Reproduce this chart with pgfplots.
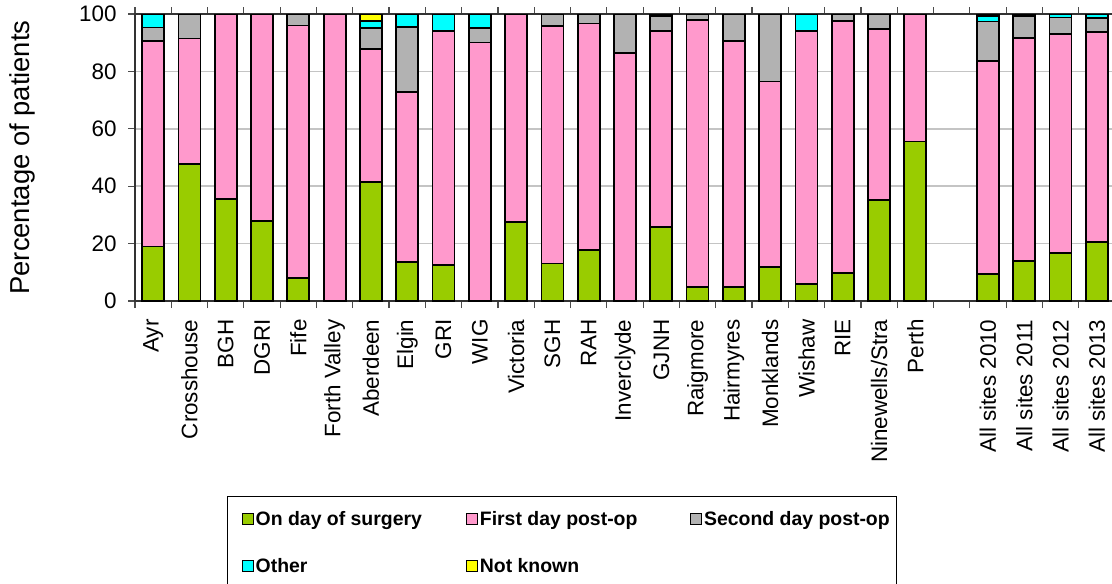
\documentclass[border=0pt]{standalone}
\usepackage{fontspec}
\setmainfont{Liberation Sans}
\usepackage{pgfplots}
\usepackage{pgfplotstable}
\pgfplotsset{compat=1.18}

\definecolor{cgreen}{HTML}{99CC00}
\definecolor{cpink}{HTML}{FF99CC}
\definecolor{cgray}{HTML}{B2B2B2}
\definecolor{ccyan}{HTML}{00FFFF}
\definecolor{cyell}{HTML}{FFFF00}
\definecolor{cgrid}{HTML}{C4C4C4}

% x  on-day  first  second  other  notknown
\pgfplotstableread{
x  g     p     s     o    n
0  19.0  71.5  4.8   4.7  0
1  47.8  43.7  8.5   0    0
2  35.5  64.5  0     0    0
3  27.8  72.2  0     0    0
4  8.1   87.9  4.0   0    0
5  0     100   0     0    0
6  41.4  46.5  7.2   2.6  2.3
7  13.7  59.2  22.7  4.4  0
8  12.6  81.5  0     5.9  0
9  0     90.1  4.9   5.0  0
10 27.4  72.6  0     0    0
11 13.1  82.8  4.1   0    0
12 17.9  78.8  3.3   0    0
13 0     86.4  13.6  0    0
14 25.9  68.3  5.0   0.8  0
15 4.9   93.0  2.1   0    0
16 4.8   85.7  9.5   0    0
17 11.9  64.6  23.5  0    0
18 6.0   88.1  0     5.9  0
19 9.7   87.9  2.4   0    0
20 35.2  59.5  5.3   0    0
21 55.6  44.4  0     0    0
23 9.4   74.2  13.8  1.8  0.8
24 14.0  77.6  7.6   0.8  0
25 16.6  76.4  5.8   1.2  0
26 20.6  73.1  4.9   1.4  0
}\sites

\begin{document}
\begin{tikzpicture}
\begin{axis}[
    at={(135bp,-301bp)}, anchor=south west,
    scale only axis, width=980bp, height=287bp,
    xmin=-0.5, xmax=26.5, ymin=0, ymax=100,
    ybar stacked, bar width=22bp,
    axis line style={draw=black!80, line width=1.5bp},
    tick align=outside,
    tick style={draw=black!70, line width=1.2bp},
    major tick length=7bp,
    ytick={0,20,...,100},
    ymajorgrids, major grid style={draw=cgrid, line width=1.5bp},
    x tick label as interval,
    xtick={-0.5,0.5,...,26.5},
    xticklabels={Ayr,Crosshouse,BGH,DGRI,Fife,Forth Valley,Aberdeen,Elgin,GRI,WIG,Victoria,SGH,RAH,Inverclyde,GJNH,Raigmore,Hairmyres,Monklands,Wishaw,RIE,Ninewells/Stra,Perth,{},All sites 2010,All sites 2011,All sites 2012,All sites 2013},
    xticklabel style={rotate=90, anchor=east},
    xticklabel shift=8bp,
    yticklabel shift=8bp,
    ticklabel style={font=\fontsize{22.5}{27}\selectfont},
    /pgf/number format/assume math mode=true,
    ylabel={Percentage of patients},
    ylabel style={at={(axis cs:-3.61,50)}, anchor=center, font=\fontsize{27.5}{32}\selectfont},
    every axis plot/.append style={draw=black, line width=1.8bp},
    legend columns=3,
    legend cell align=left,
    legend image code/.code={\draw[#1, draw=black, line width=1.2bp] (0bp,-5.5bp) rectangle (11bp,5.5bp);},
    legend style={at={(0.0939,-0.6794)}, anchor=north west, draw=black, line width=1bp,
        font=\bfseries\fontsize{19.5}{23}\selectfont, inner xsep=14bp, inner ysep=13bp,
        /tikz/row sep=27bp},
]
\addplot[fill=cgreen] table[x=x, y=g] {\sites};
\addplot[fill=cpink] table[x=x, y=p] {\sites};
\addplot[fill=cgray] table[x=x, y=s] {\sites};
\addplot[fill=ccyan] table[x=x, y=o] {\sites};
\addplot[fill=cyell] table[x=x, y=n] {\sites};
\addlegendentry{\makebox[208bp][l]{On day of surgery}}
\addlegendentry{\makebox[208bp][l]{First day post-op}}
\addlegendentry{\makebox[176bp][l]{Second day post-op}}
\addlegendentry{\makebox[208bp][l]{Other}}
\addlegendentry{\makebox[208bp][l]{Not known}}
\end{axis}
\pgfresetboundingbox
\path[use as bounding box] (0,0) rectangle (1112bp,-584bp);
\end{tikzpicture}
\end{document}
